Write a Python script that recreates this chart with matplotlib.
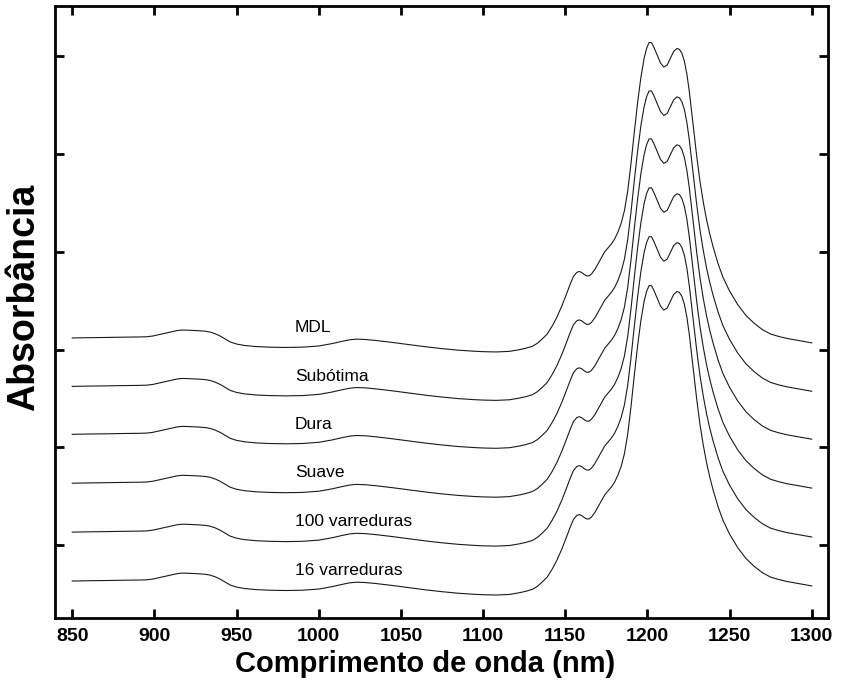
import matplotlib
matplotlib.use("Agg")
import matplotlib.pyplot as plt
import numpy as np

# Wavelengths (nm) and common spectral shape (absorbance, arbitrary offset)
wavelength = [850, 860, 870, 880, 890, 895, 899, 903, 907, 911, 914, 917, 921, 926, 931, 934,
              937, 940, 943, 946, 950, 955, 962, 970, 980, 990, 1000, 1008, 1014, 1019, 1023,
              1028, 1035, 1045, 1055, 1065, 1075, 1085, 1095, 1100, 1108, 1116, 1122, 1126,
              1130, 1133, 1136, 1139, 1142, 1145, 1148, 1151, 1153, 1155, 1157, 1158.5, 1160,
              1161.5, 1163, 1164.5, 1166, 1168, 1170, 1172, 1174, 1176, 1178, 1180, 1182, 1184,
              1186, 1188, 1190, 1192, 1194, 1196, 1198, 1199.5, 1201, 1202.5, 1204, 1206, 1208,
              1210, 1212, 1214, 1216, 1218, 1219.5, 1221, 1222.5, 1224, 1225.5, 1227, 1228.5,
              1230, 1232, 1234, 1236, 1238, 1240, 1243, 1246, 1250, 1255, 1260, 1265, 1270,
              1275, 1280, 1285, 1290, 1295, 1300]
spectrum = [0.000, 0.003, 0.005, 0.008, 0.010, 0.012, 0.020, 0.035, 0.050, 0.065, 0.076, 0.081,
            0.079, 0.075, 0.069, 0.060, 0.043, 0.020, -0.010, -0.040, -0.062, -0.077, -0.088,
            -0.094, -0.097, -0.094, -0.082, -0.058, -0.035, -0.018, -0.012, -0.015, -0.026,
            -0.046, -0.068, -0.090, -0.109, -0.125, -0.136, -0.140, -0.143, -0.137, -0.120,
            -0.105, -0.085, -0.055, -0.010, 0.040, 0.120, 0.215, 0.330, 0.460, 0.550, 0.630,
            0.670, 0.680, 0.670, 0.650, 0.635, 0.635, 0.655, 0.700, 0.760, 0.820, 0.880, 0.920,
            0.960, 1.010, 1.080, 1.170, 1.300, 1.500, 1.780, 2.100, 2.400, 2.660, 2.860, 2.960,
            3.020, 3.020, 2.970, 2.890, 2.810, 2.770, 2.790, 2.860, 2.930, 2.960, 2.950, 2.910,
            2.830, 2.700, 2.520, 2.300, 2.080, 1.860, 1.600, 1.390, 1.210, 1.060, 0.930, 0.760,
            0.620, 0.480, 0.340, 0.230, 0.150, 0.085, 0.040, 0.015, -0.005, -0.020, -0.035,
            -0.050]

series_names = ["16 varreduras", "100 varreduras", "Suave", "Dura", "Subótima", "MDL"]
offsets = [0.0, 0.5, 1.0, 1.5, 1.99, 2.485]

x_ticks = [850, 900, 950, 1000, 1050, 1100, 1150, 1200, 1250, 1300]

fig = plt.figure(figsize=(8.43, 6.86), dpi=100)
ax = fig.add_axes([55 / 843, 68 / 686, 773 / 843, 612 / 686])

wl = np.array(wavelength)
sp = np.array(spectrum)
for name, off in zip(series_names, offsets):
    ax.plot(wl, sp + off, color="#1a1a1a", lw=0.8)
    ax.text(985.5, off + 0.105, name, fontsize=12.5, family="Liberation Sans",
            ha="left", va="center", color="black")

ax.set_xlim(839.5, 1309.9)
ax.set_ylim(-0.378, 5.879)
ax.set_xticks(x_ticks)
ax.set_yticks([0.368 + k * 0.999 for k in range(6)])
ax.set_yticklabels([])
ax.tick_params(axis="both", direction="in", length=6.5, width=2, top=True, right=True)
ax.tick_params(axis="x", pad=7, labelsize=14)
for lab in ax.get_xticklabels():
    lab.set_fontweight("bold")
    lab.set_family("Liberation Sans")
for s in ax.spines.values():
    s.set_linewidth(2)

ax.set_xlabel("Comprimento de onda (nm)", fontsize=21, fontweight="bold",
              family="Liberation Sans", labelpad=2)
ax.xaxis.set_label_coords((425 - 55) / 773, -0.052)
ax.set_ylabel("Absorbância", fontsize=27, fontweight="bold", family="Liberation Sans")
ax.yaxis.set_label_coords((42 - 55) / 773, (618 - 297) / 612)

fig.savefig("out.png", dpi=100)
